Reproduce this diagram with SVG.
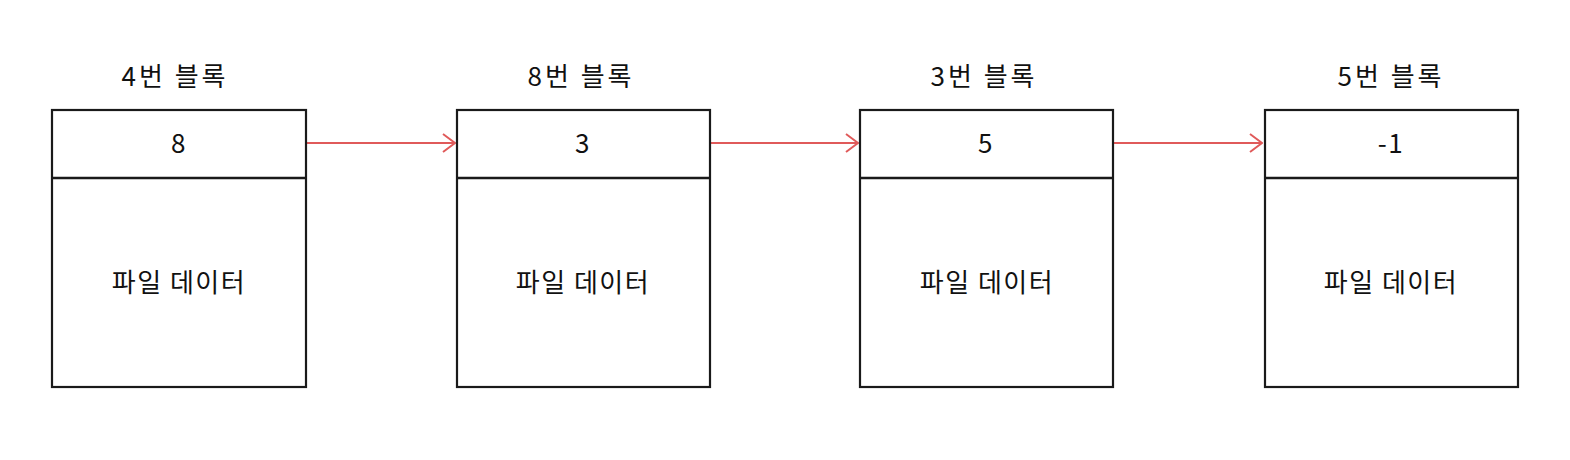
<svg xmlns="http://www.w3.org/2000/svg" width="1570" height="460" viewBox="0 0 1570 460">
<defs>
<style>
.box{fill:#fff;stroke:#1a1a1a;stroke-width:2.2}
.div{stroke:#1a1a1a;stroke-width:2.6}
.t{font-family:"Noto Sans CJK KR","Noto Sans",sans-serif;font-size:26px;fill:#111;text-anchor:middle;letter-spacing:1.5px}
.h{letter-spacing:3px}
.conn{stroke:#e05a5a;stroke-width:2;fill:none}
</style>
<marker id="ah" viewBox="0 0 14 20" refX="13" refY="10" markerWidth="14" markerHeight="20" markerUnits="userSpaceOnUse" orient="auto">
<path d="M1,1 L13,10 L1,19" fill="none" stroke="#e05a5a" stroke-width="2"/>
</marker>
</defs>
<rect width="1570" height="460" fill="#fff"/>
<g id="connectors">
<line class="conn" x1="307" y1="143" x2="455" y2="143" marker-end="url(#ah)"/>
<line class="conn" x1="711" y1="143" x2="858" y2="143" marker-end="url(#ah)"/>
<line class="conn" x1="1114" y1="143" x2="1262" y2="143" marker-end="url(#ah)"/>
</g>
<g id="block4">
<text class="t h" x="175" y="86">4번 블록</text>
<rect class="box" x="52" y="110" width="254" height="277"/>
<line class="div" x1="52" y1="178" x2="306" y2="178"/>
<text class="t" x="179" y="153">8</text>
<text class="t" x="179" y="292">파일 데이터</text>
</g>
<g id="block8">
<text class="t h" x="581" y="86">8번 블록</text>
<rect class="box" x="457" y="110" width="253" height="277"/>
<line class="div" x1="457" y1="178" x2="710" y2="178"/>
<text class="t" x="583" y="153">3</text>
<text class="t" x="583" y="292">파일 데이터</text>
</g>
<g id="block3">
<text class="t h" x="984" y="86">3번 블록</text>
<rect class="box" x="860" y="110" width="253" height="277"/>
<line class="div" x1="860" y1="178" x2="1113" y2="178"/>
<text class="t" x="986" y="153">5</text>
<text class="t" x="987" y="292">파일 데이터</text>
</g>
<g id="block5">
<text class="t h" x="1391" y="86">5번 블록</text>
<rect class="box" x="1265" y="110" width="253" height="277"/>
<line class="div" x1="1265" y1="178" x2="1518" y2="178"/>
<text class="t" x="1391" y="153">-1</text>
<text class="t" x="1391" y="292">파일 데이터</text>
</g>
</svg>
